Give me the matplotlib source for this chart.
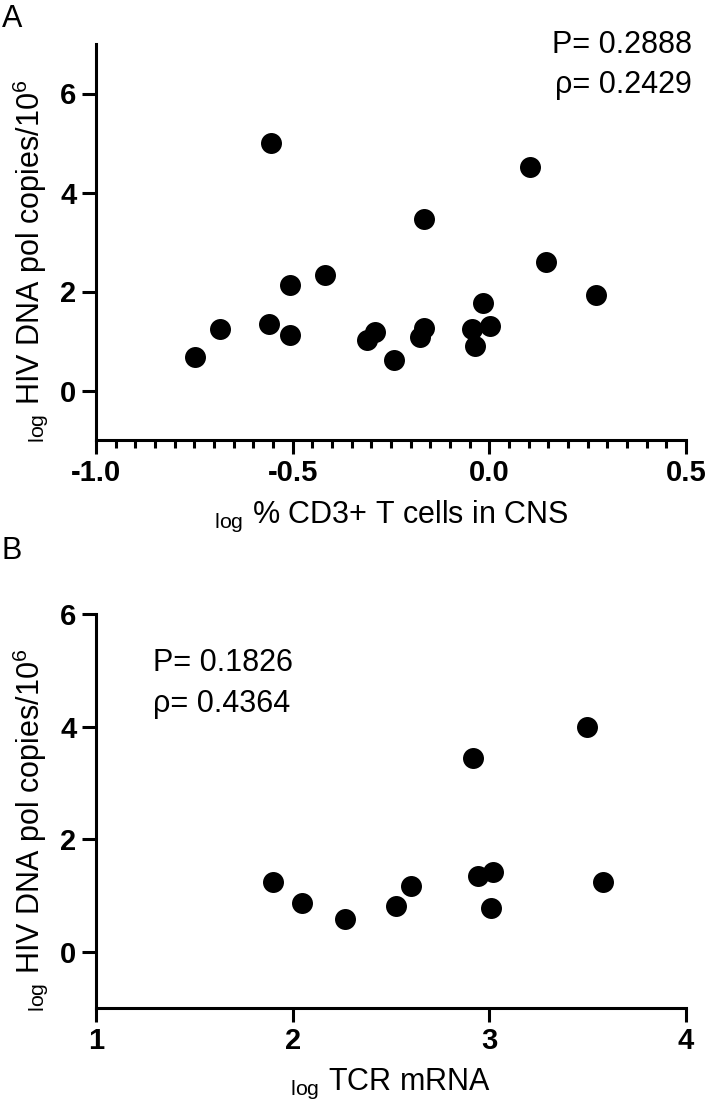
import matplotlib
matplotlib.use('Agg')
from matplotlib import pyplot as plt
from matplotlib.ticker import MultipleLocator

plt.rcParams['font.family'] = ['Liberation Sans', 'DejaVu Sans']
plt.rcParams['mathtext.default'] = 'regular'

# panel A: log % CD3+ T cells in CNS vs log HIV DNA
cd3 = [-0.554, 0.103, -0.166, -0.748, -0.684, -0.559, -0.508, -0.508, -0.418, -0.312,
       -0.290, -0.243, -0.177, -0.167, -0.045, -0.037, -0.015, 0.002, 0.145, 0.272]
hiv_a = [5.01, 4.51, 3.46, 0.68, 1.24, 1.34, 2.13, 1.12, 2.33, 1.02,
         1.19, 0.61, 1.08, 1.27, 1.25, 0.90, 1.76, 1.30, 2.60, 1.93]

# panel B: log TCR mRNA vs log HIV DNA
tcr = [3.499, 2.918, 1.900, 2.046, 2.265, 2.526, 2.603, 2.942, 3.018, 3.008, 3.577]
hiv_b = [3.99, 3.45, 1.24, 0.86, 0.58, 0.82, 1.17, 1.35, 1.42, 0.78, 1.24]

stats_a = ['P= 0.2888', 'ρ= 0.2429']
stats_b = ['P= 0.1826', 'ρ= 0.4364']

W, H = 709, 1119
fig = plt.figure(figsize=(W / 100, H / 100), dpi=100)
axA = fig.add_axes([96 / W, 1 - 440 / H, 590 / W, 396 / H])
axB = fig.add_axes([96 / W, 1 - 1008 / H, 590 / W, 394 / H])

ylab = r'${}_{log}$ HIV DNA pol copies/10$^{6}$'

axA.set_ylim(-1, 7)
axB.set_ylim(-1, 6)

for ax in (axA, axB):
    for s in ['top', 'right']:
        ax.spines[s].set_visible(False)
    for s in ['left', 'bottom']:
        ax.spines[s].set_linewidth(2.2)
    ax.set_yticks([0, 2, 4, 6])
    ax.tick_params(which='major', length=10, width=2.2, labelsize=21, pad=4)
    ax.tick_params(which='minor', length=6, width=2.2)
    ax.set_ylabel(ylab, fontsize=22)
    ax.yaxis.set_label_coords(-0.078, 0.45)

axA.scatter(cd3, hiv_a, s=228, color='black', linewidths=0, zorder=3, clip_on=False)
axA.set_xlim(-1, 0.5)
axA.set_xticks([-1.0, -0.5, 0.0, 0.5])
axA.set_xticklabels(['-1.0', '-0.5', '0.0', '0.5'], fontweight='bold')
axA.xaxis.set_minor_locator(MultipleLocator(0.05))
axA.set_xlabel(r'${}_{log}$ % CD3+ T cells in CNS', fontsize=22, labelpad=8)

axB.scatter(tcr, hiv_b, s=228, color='black', linewidths=0, zorder=3, clip_on=False)
axB.set_xlim(1, 4)
axB.set_xticks([1, 2, 3, 4])
axB.set_xticklabels(['1', '2', '3', '4'], fontweight='bold')
axB.set_xlabel(r'${}_{log}$ TCR mRNA', fontsize=22, labelpad=8)

for ax in (axA, axB):
    for lab in ax.get_yticklabels():
        lab.set_fontweight('bold')

fig.text(692 / W, 1 - 53 / H, stats_a[0], ha='right', va='baseline', fontsize=22)
fig.text(692 / W, 1 - 93 / H, stats_a[1], ha='right', va='baseline', fontsize=22)
fig.text(153 / W, 1 - 671 / H, stats_b[0], ha='left', va='baseline', fontsize=22)
fig.text(153 / W, 1 - 712 / H, stats_b[1], ha='left', va='baseline', fontsize=22)

fig.text(2 / W, 1 - 27 / H, 'A', ha='left', va='baseline', fontsize=22)
fig.text(2 / W, 1 - 559 / H, 'B', ha='left', va='baseline', fontsize=22)

fig.savefig('out.png', dpi=100)
